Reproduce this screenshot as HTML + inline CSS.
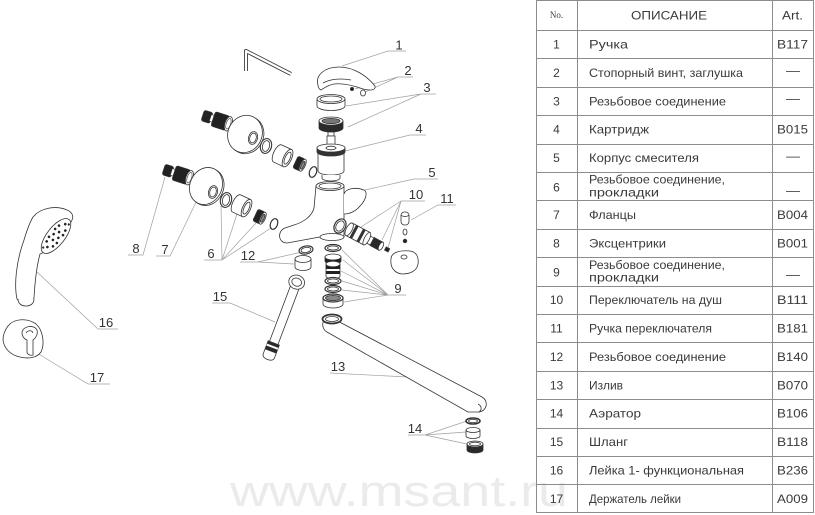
<!DOCTYPE html>
<html><head><meta charset="utf-8"><style>
html,body{margin:0;padding:0;background:#fff;}
svg{display:block}
</style></head><body>
<svg width="815" height="515" viewBox="0 0 815 515" xmlns="http://www.w3.org/2000/svg">
<rect width="815" height="515" fill="#fff"/>
<text x="230" y="506" font-family="Liberation Sans, sans-serif" font-size="44" fill="#ebebeb" textLength="338" lengthAdjust="spacingAndGlyphs">www.msant.ru</text>

<!-- TABLE -->
<g stroke="#8c8c8c" stroke-width="1" fill="none">
<rect x="536.5" y="0.5" width="277" height="512"/>
<line x1="577.5" y1="0.5" x2="577.5" y2="512.5"/>
<line x1="772.5" y1="0.5" x2="772.5" y2="512.5"/>
<path d="M536.5,30.5H813.5M536.5,58.5H813.5M536.5,87.5H813.5M536.5,115.5H813.5M536.5,144.5H813.5M536.5,172.5H813.5M536.5,200.5H813.5M536.5,229.5H813.5M536.5,257.5H813.5M536.5,286.5H813.5M536.5,314.5H813.5M536.5,342.5H813.5M536.5,371.5H813.5M536.5,399.5H813.5M536.5,428.5H813.5M536.5,456.5H813.5M536.5,484.5H813.5"/>
</g>
<g font-family="Liberation Sans, sans-serif" font-size="12" fill="#3a3a3a">
<text x="556.5" y="18" font-family="Liberation Serif, serif" font-size="9" text-anchor="middle">No.</text>
<text x="631" y="19.5" textLength="76" lengthAdjust="spacingAndGlyphs">ОПИСАНИЕ</text>
<text x="782" y="19.5" textLength="21" lengthAdjust="spacingAndGlyphs">Art.</text>
<g text-anchor="middle">
<text x="556.5" y="48.5">1</text>
<text x="556.5" y="76.9">2</text>
<text x="556.5" y="105.3">3</text>
<text x="556.5" y="133.7">4</text>
<text x="556.5" y="162.1">5</text>
<text x="556.5" y="191.5">6</text>
<text x="556.5" y="218.9">7</text>
<text x="556.5" y="247.3">8</text>
<text x="556.5" y="276.5">9</text>
<text x="556.5" y="304.1">10</text>
<text x="556.5" y="332.5">11</text>
<text x="556.5" y="360.9">12</text>
<text x="556.5" y="389.3">13</text>
<text x="556.5" y="417.7">14</text>
<text x="556.5" y="446.1">15</text>
<text x="556.5" y="474.5">16</text>
<text x="556.5" y="502.9">17</text>
</g>
<text x="589" y="48.5" textLength="39" lengthAdjust="spacingAndGlyphs">Ручка</text>
<text x="589" y="76.9" textLength="154" lengthAdjust="spacingAndGlyphs">Стопорный винт, заглушка</text>
<text x="589" y="105.3" textLength="137" lengthAdjust="spacingAndGlyphs">Резьбовое соединение</text>
<text x="589" y="133.7" textLength="60" lengthAdjust="spacingAndGlyphs">Картридж</text>
<text x="589" y="162.1" textLength="110" lengthAdjust="spacingAndGlyphs">Корпус смесителя</text>
<text x="589" y="183.5" textLength="136" lengthAdjust="spacingAndGlyphs">Резьбовое соединение,</text>
<text x="589" y="196.5" textLength="70" lengthAdjust="spacingAndGlyphs">прокладки</text>
<text x="589" y="218.9" textLength="47" lengthAdjust="spacingAndGlyphs">Фланцы</text>
<text x="589" y="247.3" textLength="77" lengthAdjust="spacingAndGlyphs">Эксцентрики</text>
<text x="589" y="269" textLength="136" lengthAdjust="spacingAndGlyphs">Резьбовое соединение,</text>
<text x="589" y="281.5" textLength="70" lengthAdjust="spacingAndGlyphs">прокладки</text>
<text x="589" y="304.1" textLength="133" lengthAdjust="spacingAndGlyphs">Переключатель на душ</text>
<text x="589" y="332.5" textLength="123" lengthAdjust="spacingAndGlyphs">Ручка переключателя</text>
<text x="589" y="360.9" textLength="137" lengthAdjust="spacingAndGlyphs">Резьбовое соединение</text>
<text x="589" y="389.3" textLength="34" lengthAdjust="spacingAndGlyphs">Излив</text>
<text x="589" y="417.7" textLength="52" lengthAdjust="spacingAndGlyphs">Аэратор</text>
<text x="589" y="446.1" textLength="39" lengthAdjust="spacingAndGlyphs">Шланг</text>
<text x="589" y="474.5" textLength="155" lengthAdjust="spacingAndGlyphs">Лейка 1- функциональная</text>
<text x="589" y="502.9" textLength="92" lengthAdjust="spacingAndGlyphs">Держатель лейки</text>
<text x="777" y="48.5" textLength="31" lengthAdjust="spacingAndGlyphs">B117</text>
<text x="786" y="74.3" textLength="14" lengthAdjust="spacingAndGlyphs">—</text>
<text x="786" y="102.3" textLength="14" lengthAdjust="spacingAndGlyphs">—</text>
<text x="777" y="133.7" textLength="31" lengthAdjust="spacingAndGlyphs">B015</text>
<text x="786" y="160" textLength="14" lengthAdjust="spacingAndGlyphs">—</text>
<text x="786" y="194.5" textLength="14" lengthAdjust="spacingAndGlyphs">—</text>
<text x="777" y="218.9" textLength="31" lengthAdjust="spacingAndGlyphs">B004</text>
<text x="777" y="247.3" textLength="31" lengthAdjust="spacingAndGlyphs">B001</text>
<text x="786" y="278.5" textLength="14" lengthAdjust="spacingAndGlyphs">—</text>
<text x="777" y="304.1" textLength="31" lengthAdjust="spacingAndGlyphs">B111</text>
<text x="777" y="332.5" textLength="31" lengthAdjust="spacingAndGlyphs">B181</text>
<text x="777" y="360.9" textLength="31" lengthAdjust="spacingAndGlyphs">B140</text>
<text x="777" y="389.3" textLength="31" lengthAdjust="spacingAndGlyphs">B070</text>
<text x="777" y="417.7" textLength="31" lengthAdjust="spacingAndGlyphs">B106</text>
<text x="777" y="446.1" textLength="31" lengthAdjust="spacingAndGlyphs">B118</text>
<text x="777" y="474.5" textLength="31" lengthAdjust="spacingAndGlyphs">B236</text>
<text x="777" y="502.9" textLength="31" lengthAdjust="spacingAndGlyphs">A009</text>
</g>

<!-- LEADER LINES -->
<g stroke="#a0a0a0" stroke-width="0.7" fill="none">
<path d="M342,66 L388,51 L406,51"/>
<path d="M355,89 L398,77 L413,77 M365,92 L398,77"/>
<path d="M346,106 L421,94 L436,94 M348,127 L421,94"/>
<path d="M345,151 L410,135 L426,135"/>
<path d="M365,190 L414,179 L438,179"/>
<path d="M361,227 L401,201 M382,240 L401,201 M388,248 L401,201 M401,201 L425,201"/>
<path d="M411,220 L438,205 L456,205"/>
<path d="M342,250 L388,295 M343,260 L388,295 M341,271 L388,295 M342,281 L388,295 M342,290 L388,295 M344,302 L388,295 M388,295 L406,295"/>
<path d="M240,262 L258,262 L302,252 M258,262 L294,264"/>
<path d="M204,260 L222,260 L221,206 M222,260 L237,214 M222,260 L256,223 M222,260 L271,228"/>
<path d="M156,256 L170,256 L202,190"/>
<path d="M128,255 L143,255 L165,177"/>
<path d="M212,303 L230,303 L275,322"/>
<path d="M330,373 L427,378"/>
<path d="M408,435 L425,435 L467,421 M425,435 L466,432 M425,435 L467,444"/>
<path d="M37,272 L98,329 L118,329"/>
<path d="M37,353 L88,384 L110,384"/>
</g>

<!-- LABELS -->
<g font-family="Liberation Sans, sans-serif" font-size="13" fill="#333" text-anchor="middle">
<text x="399" y="49.5">1</text>
<text x="408" y="75">2</text>
<text x="427" y="92">3</text>
<text x="419" y="133">4</text>
<text x="432" y="177">5</text>
<text x="416" y="199">10</text>
<text x="447" y="203">11</text>
<text x="398" y="293">9</text>
<text x="248" y="260">12</text>
<text x="211" y="258">6</text>
<text x="165" y="254">7</text>
<text x="136" y="253">8</text>
<text x="220" y="301">15</text>
<text x="338" y="371">13</text>
<text x="415" y="433">14</text>
<text x="106" y="327">16</text>
<text x="97" y="382">17</text>
</g>

<!-- PARTS -->
<g stroke="#333" stroke-width="0.8" fill="#fff">
<path d="M246,71 L246,51 L291,74" stroke="#333" stroke-width="4" fill="none" stroke-linejoin="round"/>
<path d="M246,71 L246,51 L291,74" stroke="#fff" stroke-width="2.3" fill="none" stroke-linejoin="round"/>
<path d="M318,85 C315,75 325,67 339,67 C354,67 367,76 375,86 C376,90 371,91 363,89 C352,85 342,83 334,84 C328,85 324,88 321,90 C319,89 318,87 318,85 Z"/>
<path d="M323,83 C330,79 341,78 351,80" fill="none"/>
<circle cx="352" cy="89" r="1.6" fill="#222"/>
<ellipse cx="363" cy="93" rx="2.5" ry="3"/>
<path d="M317,99 L317,106 A14,4.5 0 0 0 345,106 L345,99"/>
<ellipse cx="331" cy="99" rx="14" ry="4.5"/>
<ellipse cx="331" cy="99" rx="11" ry="3"/>
<path d="M319,121 L319,128 A12,4 0 0 0 343,128 L343,121 Z" fill="#2a2a2a"/>
<ellipse cx="331" cy="121" rx="12" ry="4"/>
<ellipse cx="331" cy="121" rx="9" ry="2.6" fill="#777"/>
<rect x="328" y="132" width="6" height="4"/>
<path d="M327,147 L327,136 L335,136 L335,147"/>
<path d="M318,151 L318,171 A13,4 0 0 0 344,171 L344,151"/>
<path d="M317,148 L317,152 A14,4 0 0 0 345,152 L345,148 Z" fill="#333"/>
<ellipse cx="331" cy="148" rx="14" ry="4"/>
<ellipse cx="331" cy="148" rx="5" ry="1.8"/>
<path d="M322,175 L322,178 A9,3 0 0 0 340,178 L340,175"/>
<path d="M316,186 L314,208 C312,216 304,222 294,225 L285,228 C277,231 278,243 287,243 L320,237 A12,3.5 0 0 0 344,237 L344,186 Z"/>
<path d="M344,194 C346,188 356,187 364,190 C368,192 366,200 360,206 C356,211 350,214 344,214"/>
<ellipse cx="330" cy="186" rx="14" ry="4.5"/>
<ellipse cx="330" cy="186" rx="11" ry="3"/>
<path d="M320,237 A12,3.5 0 0 1 344,237" fill="none"/>
<ellipse cx="340" cy="226" rx="5.5" ry="7.5" transform="rotate(30 340 226)" stroke-width="1.2"/>
<ellipse cx="340" cy="226" rx="3.8" ry="5.5" transform="rotate(30 340 226)"/>
<g transform="translate(358,234) rotate(28)">
<rect x="-10" y="-7" width="20" height="14" stroke="none"/>
<rect x="-6" y="-7" width="3" height="14" fill="#333" stroke="none"/>
<rect x="2" y="-7" width="3" height="14" fill="#333" stroke="none"/>
<path d="M-10,-7 L10,-7 M-10,7 L10,7" fill="none"/>
<ellipse cx="-10" cy="0" rx="3" ry="7"/>
<rect x="10" y="-4" width="6" height="8"/>
<ellipse cx="10" cy="0" rx="2.5" ry="7"/>
<rect x="16" y="-4.5" width="10" height="9" fill="#2a2a2a"/>
<ellipse cx="26" cy="0" rx="2" ry="4.5"/>
<rect x="31" y="-1.8" width="4" height="3.6" fill="#222"/>
</g>
<rect x="401" y="212" width="8" height="13" rx="3.5"/>
<path d="M401.5,215 A3.5,1.5 0 0 0 408.5,215" fill="none"/>
<ellipse cx="405" cy="232" rx="2" ry="3"/>
<circle cx="405" cy="241" r="1.8" fill="#222"/>
<path d="M391,259 C391,252 401,250 410,251 C417,252 419,258 418,264 C417,271 410,274 402,274 C394,273 390,267 391,259 Z"/>
<ellipse cx="404" cy="257" rx="3" ry="2"/>
<ellipse cx="333" cy="248" rx="8" ry="3.5" stroke-width="1.2"/>
<ellipse cx="333" cy="248" rx="5.5" ry="2"/>
<path d="M325,257 L325,261 A8,3 0 0 0 341,261 L341,257 Z" fill="#222"/>
<ellipse cx="333" cy="257" rx="8" ry="3"/>
<path d="M326,264 L326,276 A7,3 0 0 0 340,276 L340,264 Z"/>
<rect x="326" y="265" width="14" height="4" fill="#222" stroke="none"/>
<rect x="326" y="271" width="14" height="3" fill="#222" stroke="none"/>
<ellipse cx="333" cy="264" rx="7" ry="2.8"/>
<ellipse cx="333" cy="281" rx="8" ry="3.5" stroke-width="1.2"/>
<ellipse cx="333" cy="281" rx="5.5" ry="2"/>
<ellipse cx="333" cy="289" rx="8" ry="3.5" stroke-width="1.2"/>
<ellipse cx="333" cy="289" rx="5.5" ry="2"/>
<path d="M323,298 L323,304 A10,4 0 0 0 343,304 L343,298"/>
<ellipse cx="333" cy="298" rx="10" ry="4" stroke-width="1.3"/>
<ellipse cx="333" cy="298" rx="7.5" ry="2.6" fill="#888"/>
<ellipse cx="306" cy="250" rx="7" ry="4" transform="rotate(-10 306 250)" stroke-width="1.2"/>
<ellipse cx="306" cy="250" rx="5" ry="2.5" transform="rotate(-10 306 250)"/>
<path d="M295,259 L295,267 A8,3.5 0 0 0 311,267 L311,259"/>
<ellipse cx="303" cy="259" rx="8" ry="3.5"/>
<g transform="translate(296,284) rotate(20.7)">
<path d="M-4.5,4 L-4.5,64 M4.5,4 L4.5,64" fill="none"/>
<ellipse cx="0" cy="-2" rx="8" ry="7"/>
<ellipse cx="0" cy="-2" rx="5" ry="4"/>
<rect x="-6" y="63" width="12" height="9" fill="#2a2a2a"/>
<rect x="-6" y="66" width="12" height="2" fill="#fff" stroke="none"/>
<path d="M-6,72 L-6,77 C-6,82 6,82 6,77 L6,72"/>
</g>
<path d="M330,317 L482,397 C489,401 487,411 479,412 L468,412 L327,332 C320,328 322,317 330,317 Z"/>
<path d="M478,404 C482,406 482,410 479,412" fill="none"/>
<ellipse cx="332" cy="319" rx="9.5" ry="4.5" stroke-width="1.8"/>
<ellipse cx="332" cy="319" rx="6.5" ry="2.5"/>
<ellipse cx="473" cy="421" rx="7" ry="3" stroke-width="1.6"/>
<ellipse cx="473" cy="421" rx="4.5" ry="1.6"/>
<path d="M466,430 L466,436 A7,2.5 0 0 0 480,436 L480,430"/>
<ellipse cx="473" cy="430" rx="7" ry="2.5"/>
<path d="M467,444 L467,450 A8,3 0 0 0 483,450 L483,444 Z" fill="#2a2a2a"/>
<ellipse cx="475" cy="444" rx="8" ry="3"/>
<ellipse cx="475" cy="444" rx="5.5" ry="1.8"/>
<g transform="translate(217,120) rotate(18)">
<rect x="-15" y="-5.5" width="9" height="11" rx="2" fill="#222"/>
<rect x="-7" y="-3.5" width="3" height="7" stroke-width="0.6"/>
<rect x="-4" y="-7.5" width="15" height="15" rx="2" fill="#222"/>
<ellipse cx="12" cy="0" rx="3.5" ry="7.5"/>
<ellipse cx="12" cy="0" rx="2.2" ry="5.5" stroke-width="0.6"/>
</g>
<g transform="translate(178,174) rotate(18)">
<rect x="-15" y="-5.5" width="9" height="11" rx="2" fill="#222"/>
<rect x="-7" y="-3.5" width="3" height="7" stroke-width="0.6"/>
<rect x="-4" y="-7.5" width="15" height="15" rx="2" fill="#222"/>
<ellipse cx="12" cy="0" rx="3.5" ry="7.5"/>
<ellipse cx="12" cy="0" rx="2.2" ry="5.5" stroke-width="0.6"/>
</g>
<ellipse cx="246.5" cy="135" rx="17" ry="19" transform="rotate(25 246.5 135)"/>
<ellipse cx="245" cy="134" rx="17" ry="19" transform="rotate(25 245 134)"/>
<ellipse cx="253" cy="138" rx="4.5" ry="6.5" transform="rotate(15 253 138)"/>
<ellipse cx="253" cy="138" rx="3.2" ry="5" transform="rotate(15 253 138)"/>
<ellipse cx="207.5" cy="187" rx="16" ry="19" transform="rotate(25 207.5 187)"/>
<ellipse cx="206" cy="186" rx="16" ry="19" transform="rotate(25 206 186)"/>
<ellipse cx="213" cy="192" rx="4.5" ry="6.5" transform="rotate(15 213 192)"/>
<ellipse cx="213" cy="192" rx="3.2" ry="5" transform="rotate(15 213 192)"/>
<ellipse cx="266" cy="146" rx="5.5" ry="7.5" transform="rotate(15 266 146)" stroke-width="1.1"/>
<ellipse cx="266" cy="146" rx="3.5" ry="5.5" transform="rotate(15 266 146)"/>
<ellipse cx="226" cy="200" rx="5.5" ry="7.5" transform="rotate(15 226 200)" stroke-width="1.1"/>
<ellipse cx="226" cy="200" rx="3.5" ry="5.5" transform="rotate(15 226 200)"/>
<g transform="translate(283,156) rotate(25)">
<path d="M-6,-9.5 L5,-9.5 L5,9.5 L-6,9.5 A4,9.5 0 0 1 -6,-9.5 Z"/>
<ellipse cx="5" cy="0" rx="4" ry="9.5"/>
<ellipse cx="5" cy="0" rx="2.5" ry="6.5"/>
</g>
<g transform="translate(242,206) rotate(25)">
<path d="M-6,-9.5 L5,-9.5 L5,9.5 L-6,9.5 A4,9.5 0 0 1 -6,-9.5 Z"/>
<ellipse cx="5" cy="0" rx="4" ry="9.5"/>
<ellipse cx="5" cy="0" rx="2.5" ry="6.5"/>
</g>
<g transform="translate(300,164) rotate(25)">
<rect x="-5" y="-6.5" width="8" height="13" rx="2" fill="#222"/>
<ellipse cx="3" cy="0" rx="2.5" ry="6.5"/>
<ellipse cx="3" cy="0" rx="1.4" ry="4.3" fill="#888"/>
</g>
<g transform="translate(260,217) rotate(25)">
<rect x="-5" y="-6.5" width="8" height="13" rx="2" fill="#222"/>
<ellipse cx="3" cy="0" rx="2.5" ry="6.5"/>
<ellipse cx="3" cy="0" rx="1.4" ry="4.3" fill="#888"/>
</g>
<ellipse cx="313" cy="172" rx="3.5" ry="5.5" transform="rotate(20 313 172)" stroke-width="1.2"/>
<ellipse cx="274" cy="224" rx="3.5" ry="5.5" transform="rotate(20 274 224)" stroke-width="1.2"/>
<path d="M33,217 C40,208 56,205 67,210 C72,212 74,216 72,220 L70,224 C66,236 56,248 40,254 C37,265 35,280 34,298 C33,303 19,303 17,299 C14,285 16,262 24,240 C27,230 30,222 33,217 Z"/>
<path d="M18,299 C18,304 22,306 26,306 C30,306 34,304 34,299"/>
<g transform="translate(56,236) rotate(-52)">
<ellipse cx="0" cy="0" rx="21" ry="9"/>
<g fill="#222" stroke="none">
<circle cx="-14" cy="0" r="1.3"/><circle cx="-10" cy="-4" r="1.3"/><circle cx="-10" cy="4" r="1.3"/>
<circle cx="-5" cy="0" r="1.3"/><circle cx="-5" cy="-5" r="1.3"/><circle cx="-5" cy="5" r="1.3"/>
<circle cx="0" cy="-3" r="1.3"/><circle cx="0" cy="3" r="1.3"/>
<circle cx="5" cy="0" r="1.3"/><circle cx="5" cy="-5" r="1.3"/><circle cx="5" cy="5" r="1.3"/>
<circle cx="10" cy="-4" r="1.3"/><circle cx="10" cy="4" r="1.3"/><circle cx="15" cy="0" r="1.3"/>
<circle cx="-17" cy="-3" r="1.1"/><circle cx="17" cy="3" r="1.1"/>
</g>
</g>
<path d="M8,326 C14,318 28,318 36,324 C43,330 45,344 41,352 C37,358 28,359 20,357 C10,355 4,348 3,340 C3,334 5,330 8,326 Z"/>
<path d="M22,333 C22,326 34,324 37,330 C38,334 36,338 33,340 L33,355 C30,356 27,354 27,352 L27,340 C24,339 22,336 22,333 Z"/>
<path d="M26,333 C28,330 32,330 33,333" fill="none"/>
</g>
</svg>
</body></html>
